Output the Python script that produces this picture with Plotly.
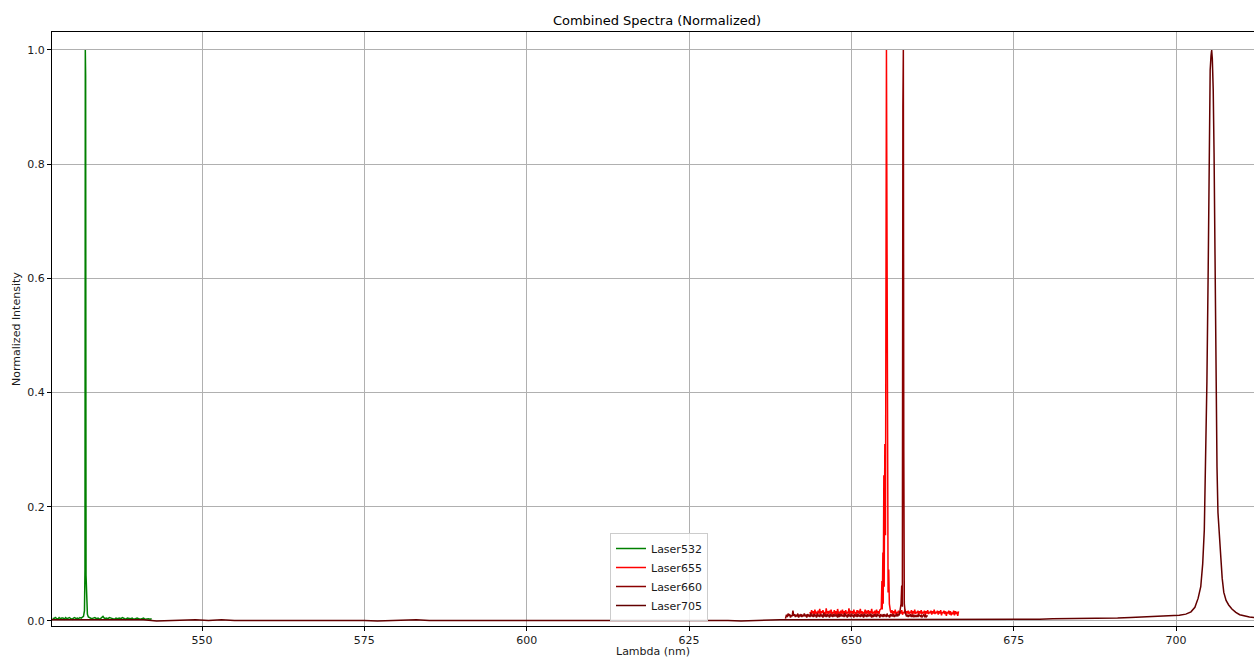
import plotly.graph_objects as go

# ---------------- data ----------------
# Laser532 (green)
wl_532 = [527.0, 527.2, 527.4, 527.6, 527.8, 528.0, 528.2, 528.4, 528.6, 528.8,
          529.0, 529.2, 529.4, 529.6, 529.8, 530.0, 530.2, 530.4, 530.6, 530.8,
          531.0, 531.2, 531.4, 531.6,
          531.75, 531.9, 531.98, 532.03, 532.08, 532.14, 532.22, 532.35, 532.5,
          532.75, 533.0, 533.25, 533.5, 533.75, 534.0, 534.25, 534.5, 534.75, 535.0,
          535.25, 535.5, 535.75, 536.0, 536.25, 536.5, 536.75, 537.0, 537.25, 537.5,
          537.75, 538.0, 538.25, 538.5, 538.75, 539.0, 539.25, 539.5, 539.75, 540.0,
          540.25, 540.5, 540.75, 541.0, 541.25, 541.5, 541.75, 542.0, 542.25]
int_532 = [5, 4, 6, 5, 3, 6, 4, 5, 5, 3,
           6, 4, 5, 6, 4, 3, 5, 6, 4, 5,
           4, 6, 5, 7,
           8, 18, 90, 1000, 955, 80, 25, 12, 7,
           5, 4, 5, 6, 4, 5, 3, 5, 8, 4,
           5, 4, 6, 5, 4, 3, 5, 4, 5, 4,
           6, 4, 3, 5, 4, 4, 5, 3, 4, 5,
           4, 3, 4, 5, 3, 4, 4, 3, 4]

# Laser655 (red): noisy baseline sampled every 0.125 nm, plus the peak points
start_655a, step_655 = 643.625, 0.125
base_655a = [16, 11, 19, 13, 17, 10, 20, 14, 15, 12,
             18, 13, 21, 11, 17, 14, 19, 12, 16, 10,
             22, 13, 17, 12, 18, 14, 20, 11, 16, 13,
             19, 12, 17, 10, 21, 14, 15, 12, 18, 13,
             20, 11, 17, 14, 19, 12, 16, 13, 22, 11,
             18, 14, 17, 12, 20, 13, 16, 10, 19, 14,
             18, 12, 21, 13, 17, 11, 16, 14, 20, 12,
             18, 13, 19, 11, 17, 14, 21, 12, 16, 13,
             18, 10, 20, 14, 17, 12, 19, 22]
peak_wl_655 = [654.6, 654.7, 654.75, 654.85, 654.9, 655.0, 655.05, 655.15, 655.25, 655.4,
               655.5, 655.6, 655.65, 655.75, 655.85, 656.0]
peak_int_655 = [22, 70, 20, 120, 30, 255, 60, 310, 150, 1000,
                300, 170, 50, 90, 30, 18]
start_655b = 656.125
base_655b = [14, 19, 12, 17, 13, 20, 11, 16, 14, 18,
             12, 17, 13, 19, 11, 16, 14, 20, 12, 17,
             13, 18, 12, 16, 14, 19, 11, 17, 13, 20,
             12, 16, 14, 18, 11, 17, 13, 19, 12, 16,
             14, 18, 10, 17, 13, 19, 12, 16, 14, 18,
             11, 17, 13, 20, 12, 16, 14, 18, 11, 17,
             13, 19, 10, 16, 14, 18, 12, 17, 9, 16,
             13, 18, 11, 17, 10, 15, 12, 18,
             10, 17, 12, 16, 9, 17]

# Laser660 (dark red)
start_660a, step_660 = 640.0, 0.125
base_660a = [11, 7, 13, 9, 12, 6, 10, 8, 18, 9,
             12, 7, 11, 8, 13, 6, 10, 9, 12, 7,
             11, 8, 13, 9, 10, 6, 12, 8, 11, 7,
             14, 8, 10, 7, 12, 9, 11, 6, 13, 8,
             10, 7, 12, 9, 11, 6, 14, 8, 10, 7,
             12, 9, 11, 6, 13, 8, 10, 7, 12, 8,
             11, 9, 10, 6, 13, 7, 12, 8, 11, 9,
             10, 7, 14, 8, 11, 6, 12, 9, 10, 7,
             13, 8, 11, 6, 12, 9, 10, 7, 13, 8,
             11, 7, 12, 9, 10, 6, 13, 8, 11, 7,
             12, 8, 10, 9, 13, 6, 11, 7, 12, 8,
             10, 7, 13, 9, 11, 6, 12, 8, 10, 7,
             12, 9, 11, 7, 13, 8, 10, 6, 12, 9,
             11, 8, 12, 7, 10, 9, 13, 8, 12, 10,
             18]
peak_wl_660 = [657.65, 657.75, 657.85, 657.93, 658.0, 658.07, 658.15, 658.3]
peak_int_660 = [30, 62, 25, 900, 1000, 300, 30, 14]
start_660b = 658.5
base_660b = [8, 11, 7, 10, 9, 12, 7, 10, 8, 11,
             7, 9, 8, 10, 7, 11, 9, 8, 10, 7,
             9, 11, 8, 10, 7, 9, 8]

# Laser705 (maroon)
wl_705 = [526.5, 529, 531, 533, 535, 537, 539, 541, 543, 545, 547, 549, 551, 553, 555,
          557, 559, 561, 563, 565, 567, 569, 571, 573, 575, 577, 579, 581, 583, 585,
          587, 589, 591, 593, 595, 597, 599, 601, 603, 605, 607, 609, 611, 613, 615,
          617, 619, 621, 623, 625, 627, 629, 631, 633, 635, 637, 639, 641, 643, 645,
          647, 649, 651, 653, 655, 657, 659, 661, 663, 665, 667, 669, 671, 673, 675,
          677, 679, 681, 683, 685, 687, 689, 691, 693, 695, 697, 699,
          700.5, 701.5, 702.3, 702.9, 703.4, 703.8, 704.1, 704.35, 704.55, 704.75,
          704.95, 705.1, 705.25, 705.38, 705.48, 705.58, 705.72, 705.85, 706.0, 706.15,
          706.3, 706.45, 706.6, 706.75, 706.9, 707.1, 707.35, 707.7, 708.1, 708.6,
          709.2, 709.8, 710.5, 711.3, 712.2, 713.0]
int_705 = [2, 2, 1, 2, 2, 1, 2, 2, 0, 1, 1, 2, 1, 2, 1,
           1, 2, 2, 1, 2, 1, 1, 2, 1, 1, 0, 1, 1, 2, 1,
           1, 2, 1, 2, 2, 1, 2, 1, 2, 1, 1, 2, 1, 1, 1,
           1, 2, 1, 1, 1, 1, 2, 1, 0, 1, 2, 2, 2, 2, 2,
           2, 2, 2, 2, 2, 2, 3, 3, 3, 3, 3, 3, 3, 3, 3,
           3, 3, 4, 4, 4, 4, 5, 5, 6, 7, 8, 9,
           10, 12, 16, 24, 40, 60, 100, 160, 270, 420,
           620, 830, 965, 990, 1000, 985, 930, 820, 620, 430,
           270, 190, 155, 140, 110, 75, 50, 36, 28, 21,
           15, 11, 9, 7, 6, 5]

x_ticks = [550, 575, 600, 625, 650, 675, 700]
y_ticks = [0.0, 0.2, 0.4, 0.6, 0.8, 1.0]


def sampled(start, step, vals):
    """Wavelength grid of an evenly sampled spectrometer segment."""
    return [round(start + i * step, 4) for i in range(len(vals))]


wl_655 = sampled(start_655a, step_655, base_655a) + peak_wl_655 + sampled(start_655b, step_655, base_655b)
int_655 = base_655a + peak_int_655 + base_655b
wl_660 = [639.85] + sampled(start_660a, step_660, base_660a) + peak_wl_660 + sampled(start_660b, step_660, base_660b)
int_660 = [4] + base_660a + peak_int_660 + base_660b

series_names = ["Laser532", "Laser655", "Laser660", "Laser705"]
series_colors = ["#008000", "#ff0000", "#8b0000", "#620000"]
series_x = [wl_532, wl_655, wl_660, wl_705]
series_y = [int_532, int_655, int_660, int_705]

# ---------------- figure ----------------
FONT = "DejaVu Sans"
fig = go.Figure()
for name, col, xs, ys in zip(series_names, series_colors, series_x, series_y):
    fig.add_trace(go.Scatter(
        x=xs, y=[v / 1000 for v in ys], mode="lines", name=name,
        line=dict(color=col, width=1.5),
    ))

L, R, T, B = 52, 0, 32, 31
W, H = 1254, 657
PW, PH = W - L - R, H - T - B
fig.update_layout(
    width=W, height=H,
    margin=dict(l=L, r=R, t=T, b=B, pad=0),
    paper_bgcolor="white", plot_bgcolor="white",
    font=dict(family=FONT, size=11, color="#1a1a1a"),
    title=dict(text="Combined Spectra (Normalized)", x=657 / W, xanchor="center",
               y=1 - 20 / H, yanchor="middle", yref="container",
               font=dict(size=13, color="black", family=FONT)),
    showlegend=True,
    legend=dict(x=(610 - L) / PW, y=(H - B - 621) / PH,
                xanchor="left", yanchor="bottom",
                bgcolor="rgba(255,255,255,0.8)", bordercolor="#cccccc", borderwidth=1,
                font=dict(size=11, family=FONT, color="#1a1a1a"),
                tracegroupgap=0, itemwidth=30),
    xaxis=dict(range=[526.9, 712.0], tickvals=x_ticks, ticktext=[str(v) for v in x_ticks],
               showgrid=True, gridcolor="#b0b0b0", gridwidth=1,
               showline=True, linecolor="black", linewidth=1, mirror=True,
               ticks="outside", ticklen=4, tickcolor="black", tickwidth=1,
               zeroline=False, automargin=False,
               tickfont=dict(size=11, family=FONT, color="#1a1a1a")),
    yaxis=dict(range=[-0.0088, 1.0315], tickvals=y_ticks, ticktext=[f"{v:.1f}" for v in y_ticks],
               showgrid=True, gridcolor="#b0b0b0", gridwidth=1,
               showline=True, linecolor="black", linewidth=1, mirror=False,
               ticks="outside", ticklen=4, tickcolor="black", tickwidth=1,
               zeroline=False, automargin=False,
               tickfont=dict(size=11, family=FONT, color="#1a1a1a")),
    annotations=[
        dict(text="Lambda (nm)", xref="paper", yref="paper", x=0.5, y=-(651 - (H - B)) / PH,
             xanchor="center", yanchor="middle", showarrow=False,
             font=dict(size=11, family=FONT, color="#1a1a1a")),
        dict(text="Normalized Intensity", xref="paper", yref="paper", x=-(L - 16) / PW,
             y=0.5, xanchor="center", yanchor="middle", textangle=-90, showarrow=False,
             font=dict(size=11, family=FONT, color="#1a1a1a")),
    ],
)

fig.write_html("out.html")
